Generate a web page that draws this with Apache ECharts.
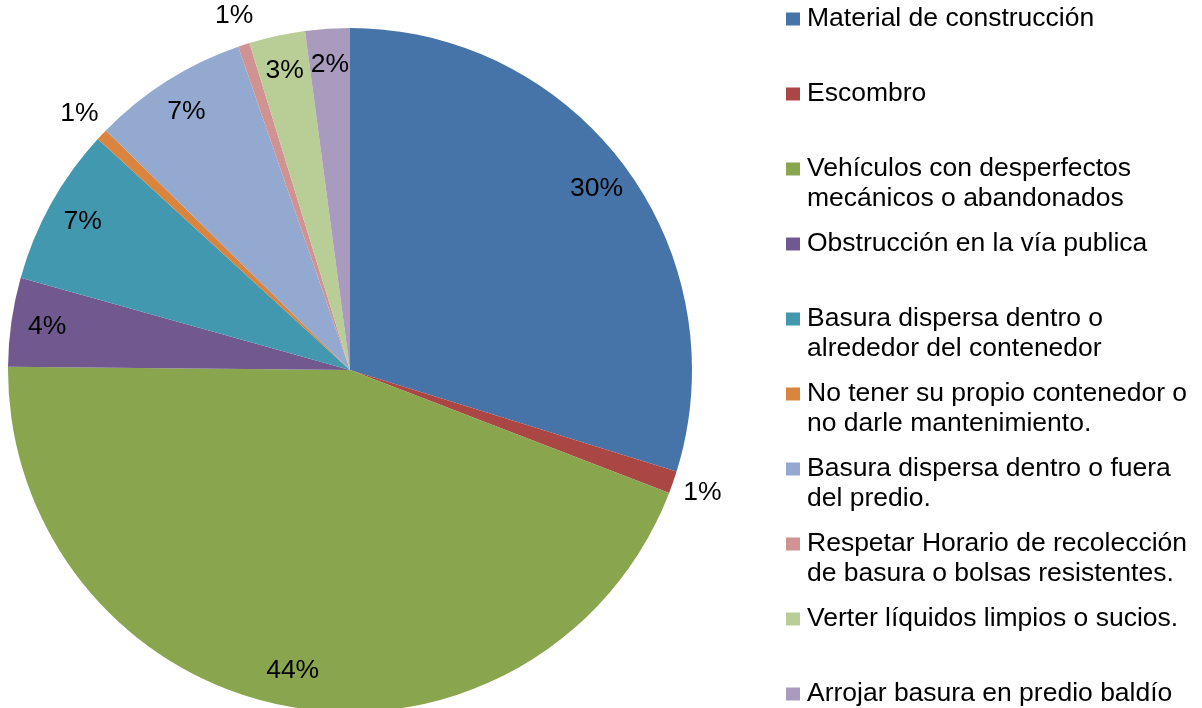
<!DOCTYPE html>
<html>
<head>
<meta charset="utf-8">
<script src="https://cdn.jsdelivr.net/npm/echarts@6/dist/echarts.min.js"></script>
<style>
    html, body { margin: 0; padding: 0; background: #fff; }
    #chart { width: 1202px; height: 708px; }
</style>
</head>
<body>
<div id="chart"></div>
<script>
    // categories, clockwise from 12 o'clock
    const categories = [
        'Material de construcción',
        'Escombro',
        'Vehículos con desperfectos mecánicos o abandonados',
        'Obstrucción en la vía publica',
        'Basura dispersa dentro o alrededor del contenedor',
        'No tener su propio contenedor o no darle mantenimiento.',
        'Basura dispersa dentro o fuera del predio.',
        'Respetar Horario de recolección de basura o bolsas resistentes.',
        'Verter líquidos limpios o sucios.',
        'Arrojar basura en predio baldío'
    ];
    // share of each category, %
    const shares = [29.8, 1.05, 44.3, 4.2, 7.45, 0.55, 7.35, 0.55, 2.65, 2.1];

    const palette = ['#4673A8', '#AA4643', '#89A54E', '#71588F', '#4198AF',
        '#DB843D', '#93A9CF', '#D19392', '#B9CD96', '#A99BBD'];

    const font = 'Liberation Sans';
    const fontSize = 26.5;
    const total = shares.reduce((a, b) => a + b, 0);
    const isSmall = (v) => v / total * 100 < 1.5;

    // word wrap legend text, keep every legend entry 3 lines tall so the
    // square lines up with the first text line
    const ctx = document.createElement('canvas').getContext('2d');
    ctx.font = fontSize + 'px "' + font + '"';
    function wrapLegend(name) {
        const words = name.split(' ');
        const lines = [];
        let line = '';
        words.forEach(function (w) {
            const test = line ? line + ' ' + w : w;
            if (line && ctx.measureText(test).width > 396) {
                lines.push(line);
                line = w;
            } else {
                line = test;
            }
        });
        lines.push(line);
        return '\n' + lines.join('\n') + (lines.length === 1 ? '\n' : '');
    }

    const labelStyle = {
        color: '#000',
        fontSize: fontSize,
        fontFamily: font,
        textBorderWidth: 0,
        formatter: (p) => Math.round(p.percent) + '%'
    };

    function labelData(showSmall) {
        return categories.map(function (name, i) {
            return {
                name: name,
                value: shares[i],
                label: {show: isSmall(shares[i]) === showSmall}
            };
        });
    }

    const chart = echarts.init(document.getElementById('chart'));
    chart.setOption({
        animation: false,
        color: palette,
        legend: {
            orient: 'vertical',
            left: 786,
            top: -26,
            height: 1000,
            padding: 0,
            itemWidth: 14,
            itemHeight: 13,
            itemGap: -15,
            icon: 'rect',
            selectedMode: false,
            formatter: wrapLegend,
            textStyle: {
                color: '#000',
                fontSize: fontSize,
                fontFamily: font,
                lineHeight: 30,
                padding: [0, 0, 0, 2]
            },
            data: categories
        },
        series: [
            {
                type: 'pie',
                center: [350, 370],
                radius: [0, 342],
                silent: true,
                label: {show: false},
                labelLine: {show: false},
                itemStyle: {borderWidth: 0},
                data: categories.map((name, i) => ({name: name, value: shares[i]}))
            },
            {
                // labels inside the slices
                type: 'pie',
                center: [350, 370],
                radius: [264, 342],
                silent: true,
                legendHoverLink: false,
                avoidLabelOverlap: false,
                itemStyle: {color: 'rgba(0,0,0,0)', borderWidth: 0},
                label: Object.assign({position: 'inside'}, labelStyle),
                labelLine: {show: false},
                data: labelData(false)
            },
            {
                // labels just outside the thin slices
                type: 'pie',
                center: [350, 370],
                radius: [342, 398],
                silent: true,
                legendHoverLink: false,
                avoidLabelOverlap: false,
                itemStyle: {color: 'rgba(0,0,0,0)', borderWidth: 0},
                label: Object.assign({position: 'inside'}, labelStyle),
                labelLine: {show: false},
                data: labelData(true)
            }
        ]
    });
</script>
</body>
</html>
